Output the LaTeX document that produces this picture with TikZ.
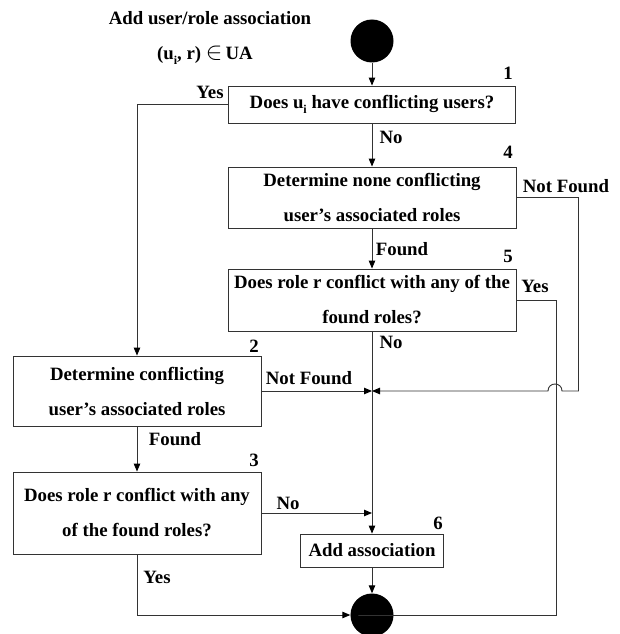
\documentclass[tikz,border=0pt]{standalone}
\usepackage{fontspec}
\setmainfont{Liberation Serif}
\usetikzlibrary{arrows.meta,positioning}

\newcommand{\ssub}[1]{\raisebox{-5pt}{\fontsize{12}{12}\selectfont #1}}

\begin{document}
\begin{tikzpicture}[x=1pt, y=-1pt, font=\fontsize{18.8}{35}\selectfont\bfseries]
\tikzstyle{box}=[draw=black!80, line width=0.9pt, align=center, inner sep=0pt]
\tikzstyle{tag}=[inner sep=0pt, anchor=center]
\tikzstyle{flow}=[draw=black!80, line width=0.9pt, -{Triangle[length=8pt, width=6.5pt, color=black]}]
\tikzstyle{dot}=[circle, fill=black, minimum size=43pt, inner sep=0pt]
\useasboundingbox (0,0) rectangle (619,634);
% title
\node[tag] (title) at (210,18) {Add user/role association};
\node[tag] (pair) at (205,55) {(u\ssub{i}, r) {\fontsize{25}{25}\selectfont$\in$}\,UA};
% steps
\node[dot] (start) at (372,41) {};
\node[box, minimum width=287pt, minimum height=37pt] (q1) at (372,104.5) {Does u\ssub{i} have conflicting users?};
\node[box, minimum width=288pt, minimum height=61pt] (det4) at (372,197.5) {Determine none conflicting\\user’s associated roles};
\node[box, minimum width=288pt, minimum height=62pt] (q5) at (372,300) {Does role r conflict with any of the\\found roles?};
\node[box, minimum width=248pt, minimum height=70pt] (det2) at (137,391) {Determine conflicting\\user’s associated roles};
\node[box, minimum width=248pt, minimum height=82pt] (q3) at (137,513) {Does role r conflict with any\\of the found roles?};
\node[box, minimum width=143pt, minimum height=33pt] (add) at (372,550.5) {Add association};
\node[dot] (stop) at (372,615) {};
\coordinate (join) at (372,391);
% numbers
\node[tag] (n1) at (508,73) {1};
\node[tag] (n4) at (508,152) {4};
\node[tag] (n5) at (508,256) {5};
\node[tag] (n2) at (254,346) {2};
\node[tag] (n3) at (254,460) {3};
\node[tag] (n6) at (438,523) {6};
% branch labels
\node[tag] (yes1) at (210,92) {Yes};
\node[tag] (no1) at (391,137) {No};
\node[tag] (nf4) at (566,186) {Not Found};
\node[tag] (f4) at (402,249) {Found};
\node[tag] (yes5) at (535,286) {Yes};
\node[tag] (no5) at (391,342) {No};
\node[tag] (nf2) at (309,378) {Not Found};
\node[tag] (f2) at (175,439) {Found};
\node[tag] (no3) at (288,503) {No};
\node[tag] (yes3) at (157,577) {Yes};
% connectors
\draw[flow] (start) -- (q1);
\draw[flow] (q1.west) -| (det2.north);
\draw[flow] (q1) -- (det4);
\draw[flow] (det4) -- (q5);
\draw[flow] (det4.east) -- ++(62,0) |- (562,391) .. controls (562,381.7) and (548,381.7) .. (548,391) -- (join);
\draw[flow] (q5.east) -- ++(40,0) |- (stop.west);
\draw[flow] (det2.east) -- (join);
\draw[flow] (det2) -- (q3);
\draw[flow] (q3.east) -- (q3.east -| join);
\draw[flow] (q5) -- (add);
\draw[flow] (add) -- (stop);
\draw[flow] (q3.south) |- (stop.west);
\end{tikzpicture}
\end{document}
